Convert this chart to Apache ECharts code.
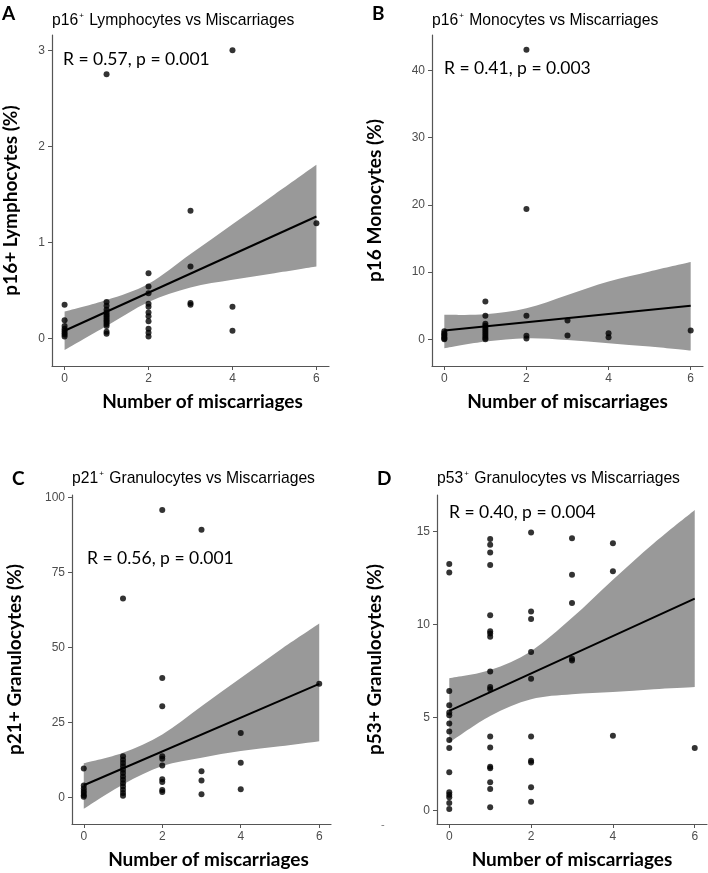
<!DOCTYPE html>
<html>
<head>
<meta charset="utf-8">
<script src="https://cdn.jsdelivr.net/npm/echarts@6/dist/echarts.min.js"></script>
<style>
  html, body { margin: 0; padding: 0; background: #fff; }
  #chart { width: 708px; height: 873px; }
</style>
</head>
<body>
<div id="chart"></div>
<script>
// shared x values
const xTicks = [0, 2, 4, 6];
const bandX = [0, 1, 2, 3, 4, 5, 6];
const fitX = [0, 6];

// A: p16+ lymphocytes
const lymphoX = [0, 0, 0, 0, 0, 0, 0, 0,
  1, 1, 1, 1, 1, 1, 1, 1, 1, 1, 1, 1, 1, 1,
  2, 2, 2, 2, 2, 2, 2, 2, 2, 2, 2,
  3, 3, 3, 3, 4, 4, 4, 6];
const lymphoY = [0.35, 0.19, 0.13, 0.10, 0.08, 0.06, 0.04, 0.02,
  2.75, 0.38, 0.34, 0.30, 0.27, 0.25, 0.23, 0.21, 0.19, 0.17, 0.15, 0.13, 0.07, 0.05,
  0.68, 0.54, 0.47, 0.36, 0.33, 0.27, 0.23, 0.18, 0.10, 0.06, 0.02,
  1.33, 0.75, 0.37, 0.35, 3.0, 0.33, 0.08, 1.2];
const lymphoFit = [0.08, 1.27];
const lymphoUpper = [0.28, 0.40, 0.57, 0.88, 1.19, 1.50, 1.81];
const lymphoLower = [-0.12, 0.13, 0.38, 0.53, 0.61, 0.68, 0.75];
const lymphoTicks = [0, 1, 2, 3];

// B: p16+ monocytes
const monoX = [0, 0, 0, 0, 0, 0, 0,
  1, 1, 1, 1, 1, 1, 1, 1, 1, 1, 1,
  2, 2, 2, 2, 2, 3, 3, 4, 4, 6];
const monoY = [1.2, 0.9, 0.7, 0.5, 0.3, 0.1, 0.0,
  5.6, 3.5, 2.3, 2.0, 1.7, 1.4, 1.1, 0.8, 0.5, 0.2, 0.0,
  43.1, 19.4, 3.5, 0.5, 0.1, 2.8, 0.55, 0.9, 0.3, 1.3];
const monoFit = [1.29, 4.98];
const monoUpper = [3.63, 3.7, 4.6, 6.6, 8.6, 10.1, 11.5];
const monoLower = [-1.35, -0.35, 0.15, -0.1, -0.6, -1.1, -1.7];
const monoTicks = [0, 10, 20, 30, 40];

// C: p21+ granulocytes
const p21X = [0, 0, 0, 0, 0, 0, 0,
  1, 1, 1, 1, 1, 1, 1, 1, 1, 1, 1, 1, 1, 1,
  2, 2, 2, 2, 2, 2, 2, 2, 2, 2,
  3, 3, 3, 3, 4, 4, 4, 6];
const p21Y = [9.7, 4.0, 3.0, 2.2, 1.5, 0.8, 0.3,
  66.3, 13.8, 12.6, 11.5, 10.4, 9.3, 8.2, 7.0, 5.9, 4.8, 3.7, 2.6, 1.5, 0.6,
  95.8, 39.8, 30.4, 13.8, 12.9, 10.7, 6.1, 5.2, 2.5, 1.9,
  89.2, 8.8, 5.7, 1.1, 21.5, 11.6, 2.75, 37.9];
const p21Fit = [4.1, 37.9];
const p21Upper = [11.4, 14.9, 21.0, 30.4, 39.8, 49.2, 58.0];
const p21Lower = [-3.7, 4.4, 10.5, 13.3, 15.5, 17.1, 18.8];
const p21Ticks = [0, 25, 50, 75, 100];

// D: p53+ granulocytes
const p53X = [0, 0, 0, 0, 0, 0, 0, 0, 0, 0, 0, 0, 0, 0, 0, 0,
  1, 1, 1, 1, 1, 1, 1, 1, 1, 1, 1, 1, 1, 1, 1, 1, 1, 1,
  2, 2, 2, 2, 2, 2, 2, 2, 2, 2,
  3, 3, 3, 3, 3, 4, 4, 4, 6];
const p53Y = [13.25, 12.8, 6.43, 5.66, 5.27, 5.13, 4.68, 4.25, 3.79, 3.36, 2.06, 0.98, 0.85, 0.72, 0.41, 0.09,
  14.6, 14.28, 13.87, 13.2, 10.5, 9.64, 9.52, 9.34, 7.47, 6.64, 6.52, 3.98, 3.39, 2.36, 2.27, 1.52, 1.16, 0.18,
  14.95, 10.7, 10.3, 8.52, 7.09, 3.98, 2.68, 2.59, 1.25, 0.48,
  14.64, 12.68, 11.16, 8.16, 8.07, 14.37, 12.86, 4.02, 3.36];
const p53Fit = [5.36, 11.39];
const p53Upper = [7.11, 7.55, 8.57, 10.36, 12.41, 14.37, 16.16];
const p53Lower = [3.66, 5.09, 5.98, 6.25, 6.37, 6.52, 6.64];
const p53Ticks = [0, 5, 10, 15];

const panels = [
  { letter: 'A', cell: 'Lymphocytes', marker: '16', stat: 'R = 0.57, p = 0.001', yName: 'p16+ Lymphocytes (%)',
    xs: lymphoX, ys: lymphoY, fit: lymphoFit, upper: lymphoUpper, lower: lymphoLower, ticks: lymphoTicks,
    grid: { left: 52, top: 35, width: 277, height: 331 }, yMin: -0.287, yMax: 3.16, yGap: 32, xPad: 24,
    titleAt: [52, 21], statAt: [63, 59], letterAt: [2, 14] },
  { letter: 'B', cell: 'Monocytes', marker: '16', stat: 'R = 0.41, p = 0.003', yName: 'p16 Monocytes (%)',
    xs: monoX, ys: monoY, fit: monoFit, upper: monoUpper, lower: monoLower, ticks: monoTicks,
    grid: { left: 432, top: 35, width: 271, height: 331 }, yMin: -3.99, yMax: 45.3, yGap: 48, xPad: 0,
    titleAt: [432, 21], statAt: [444, 68], letterAt: [372, 14] },
  { letter: 'C', cell: 'Granulocytes', marker: '21', stat: 'R = 0.56, p = 0.001', yName: 'p21+ Granulocytes (%)',
    xs: p21X, ys: p21Y, fit: p21Fit, upper: p21Upper, lower: p21Lower, ticks: p21Ticks,
    grid: { left: 72, top: 495, width: 259, height: 329 }, yMin: -8.8, yMax: 100.8, yGap: 48, xPad: 14,
    titleAt: [72, 479], statAt: [87, 558], letterAt: [12, 479] },
  { letter: 'D', cell: 'Granulocytes', marker: '53', stat: 'R = 0.40, p = 0.004', yName: 'p53+ Granulocytes (%)',
    xs: p53X, ys: p53Y, fit: p53Fit, upper: p53Upper, lower: p53Lower, ticks: p53Ticks,
    grid: { left: 437, top: 495, width: 270, height: 329 }, yMin: -0.72, yMax: 16.96, yGap: 53, xPad: 0,
    titleAt: [437, 479], statAt: [449, 512], letterAt: [377, 479] }
];

const axisColor = '#555';
const tickLabel = { color: '#4d4d4d', fontSize: 12, fontFamily: 'Liberation Sans' };
const boldName = { color: '#000', fontSize: 19, fontWeight: 'bold', fontFamily: 'Lato' };

// smooth edge through screen points (Catmull-Rom as cubic segments)
function curveTo(pts) {
  let d = '';
  for (let i = 0; i < pts.length - 1; i++) {
    const p0 = pts[i - 1] || pts[i], p1 = pts[i], p2 = pts[i + 1], p3 = pts[i + 2] || pts[i + 1];
    const c1 = [p1[0] + (p2[0] - p0[0]) / 6, p1[1] + (p2[1] - p0[1]) / 6];
    const c2 = [p2[0] - (p3[0] - p1[0]) / 6, p2[1] - (p3[1] - p1[1]) / 6];
    d += ' C' + c1[0] + ' ' + c1[1] + ' ' + c2[0] + ' ' + c2[1] + ' ' + p2[0] + ' ' + p2[1];
  }
  return d;
}

const grids = [], xAxes = [], yAxes = [], series = [], graphics = [];

panels.forEach((p, i) => {
  grids.push(p.grid);
  xAxes.push({
    gridIndex: i, type: 'value', min: -0.3, max: 6.3,
    name: 'Number of miscarriages', nameLocation: 'middle', nameGap: 26,
    nameTextStyle: Object.assign({ padding: [0, 0, 0, p.xPad] }, boldName),
    axisLine: { show: true, onZero: false, lineStyle: { color: axisColor, width: 1.2 } },
    axisTick: { show: true, length: 4, customValues: xTicks, lineStyle: { color: axisColor } },
    axisLabel: Object.assign({ margin: 7, customValues: xTicks }, tickLabel),
    splitLine: { show: false }
  });
  yAxes.push({
    gridIndex: i, type: 'value', min: p.yMin, max: p.yMax,
    name: p.yName, nameLocation: 'middle', nameGap: p.yGap, nameTextStyle: boldName,
    axisLine: { show: true, onZero: false, lineStyle: { color: axisColor, width: 1.2 } },
    axisTick: { show: true, length: 4, customValues: p.ticks, lineStyle: { color: axisColor } },
    axisLabel: Object.assign({ margin: 7, customValues: p.ticks }, tickLabel),
    splitLine: { show: false }
  });

  // confidence band
  const up = p.upper, lo = p.lower;
  series.push({
    type: 'custom', xAxisIndex: i, yAxisIndex: i, silent: true, z: 1,
    data: bandX.map((x, k) => [x, lo[k], up[k]]),
    renderItem: (params, api) => {
      if (params.dataIndex !== 0) return;
      const top = bandX.map((x, k) => api.coord([x, up[k]]));
      const bot = bandX.map((x, k) => api.coord([x, lo[k]])).reverse();
      const d = 'M' + top[0][0] + ' ' + top[0][1] + curveTo(top) +
        ' L' + bot[0][0] + ' ' + bot[0][1] + curveTo(bot) + ' Z';
      return { type: 'path', shape: { pathData: d }, style: { fill: '#999999' } };
    }
  });
  series.push({
    type: 'scatter', xAxisIndex: i, yAxisIndex: i, z: 2, symbolSize: 6,
    itemStyle: { color: '#000' },
    data: p.xs.map((x, k) => [x, p.ys[k]])
  });
  series.push({
    type: 'line', xAxisIndex: i, yAxisIndex: i, z: 3, showSymbol: false, symbol: 'none',
    lineStyle: { color: '#000', width: 2 },
    data: fitX.map((x, k) => [x, p.fit[k]])
  });

  graphics.push({
    type: 'text', x: p.titleAt[0], y: p.titleAt[1],
    style: {
      text: '{n|p' + p.marker + '}{s|+}{n| ' + p.cell + ' vs Miscarriages}',
      verticalAlign: 'middle',
      rich: {
        n: { fontSize: 15.7, fontFamily: 'Liberation Sans', fill: '#000', lineHeight: 18 },
        s: { fontSize: 8, fontFamily: 'Liberation Sans', fill: '#000', lineHeight: 18, verticalAlign: 'top', padding: [0, 1, 0, 1] }
      }
    }
  });
  graphics.push({
    type: 'text', x: p.statAt[0], y: p.statAt[1],
    style: { text: p.stat, verticalAlign: 'middle', fontSize: 17.5, fontFamily: 'Lato', fill: '#000' }
  });
  graphics.push({
    type: 'text', x: p.letterAt[0], y: p.letterAt[1],
    style: { text: p.letter, verticalAlign: 'middle', fontSize: 19, fontWeight: 'bold', fontFamily: 'Lato', fill: '#000' }
  });
});

graphics.push({
  type: 'text', x: 381, y: 825,
  style: { text: '-', verticalAlign: 'middle', fontSize: 11, fontFamily: 'Liberation Sans', fill: '#777' }
});

const chart = echarts.init(document.getElementById('chart'), null, { renderer: 'canvas' });
chart.setOption({
  animation: false,
  backgroundColor: '#fff',
  grid: grids,
  xAxis: xAxes,
  yAxis: yAxes,
  series: series,
  graphic: graphics
});
</script>
</body>
</html>
